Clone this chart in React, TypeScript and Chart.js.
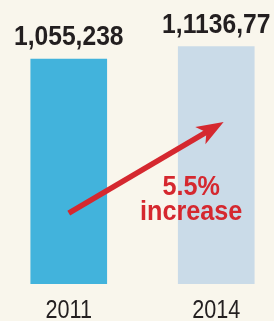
import React, { useEffect, useRef } from 'react';
import { Chart, registerables } from 'chart.js';

Chart.register(...registerables);

const categories = ['2011', '2014'];
const values = [1055238, 1113677];
const valueLabels = ['1,055,238', '1,1136,77'];
const barColors = ['#42b3dc', '#cadbe8'];
const changeLines = ['5.5%', 'increase'];
const arrowFrom = [0, 333000];
const arrowTo = [1.05, 760000];
const changeAnchor = [0.83, 403000];
const yMax = 1300000;

const FONT = '"Liberation Sans", Arial, Helvetica, sans-serif';

function drawText(ctx: CanvasRenderingContext2D, text: string, x: number, y: number, sx: number) {
  ctx.save();
  ctx.translate(x, y);
  ctx.scale(sx, 1);
  ctx.fillText(text, 0, 0);
  ctx.restore();
}

const annotPlugin = {
  id: 'annot',
  afterDatasetsDraw(chart: any) {
    const ctx = chart.ctx as CanvasRenderingContext2D;
    const xs = chart.scales.x;
    const ys = chart.scales.y;
    const meta = chart.getDatasetMeta(0);
    ctx.save();
    ctx.textAlign = 'center';
    ctx.textBaseline = 'alphabetic';
    // value labels
    ctx.fillStyle = '#231f20';
    ctx.font = `bold 28px ${FONT}`;
    meta.data.forEach((bar: any, i: number) => {
      drawText(ctx, valueLabels[i], bar.x, bar.y - 14, 0.88);
    });
    // category labels (x axis)
    ctx.font = `25px ${FONT}`;
    categories.forEach((c, i) => {
      drawText(ctx, c, xs.getPixelForTick(i), chart.chartArea.bottom + 34, 0.865);
    });
    // arrow
    const red = '#d5282f';
    const x0 = xs.getPixelForValue(arrowFrom[0]);
    const y0 = ys.getPixelForValue(arrowFrom[1]);
    const x1 = xs.getPixelForValue(arrowTo[0]);
    const y1 = ys.getPixelForValue(arrowTo[1]);
    const dx = x1 - x0, dy = y1 - y0;
    const len = Math.hypot(dx, dy);
    const ux = dx / len, uy = dy / len;
    const nx = -uy, ny = ux;
    const headLen = 27, headHalf = 10, notch = 20;
    const nxp = x1 - ux * notch, nyp = y1 - uy * notch;
    ctx.strokeStyle = red;
    ctx.lineWidth = 5.5;
    ctx.lineCap = 'butt';
    ctx.beginPath();
    ctx.moveTo(x0, y0);
    ctx.lineTo(nxp + ux * 2, nyp + uy * 2);
    ctx.stroke();
    ctx.fillStyle = red;
    ctx.beginPath();
    ctx.moveTo(x1, y1);
    ctx.lineTo(x1 - ux * headLen + nx * headHalf, y1 - uy * headLen + ny * headHalf);
    ctx.lineTo(nxp, nyp);
    ctx.lineTo(x1 - ux * headLen - nx * headHalf, y1 - uy * headLen - ny * headHalf);
    ctx.closePath();
    ctx.fill();
    // change text
    const cx = xs.getPixelForValue(changeAnchor[0]);
    const cy = ys.getPixelForValue(changeAnchor[1]);
    ctx.font = `bold 28px ${FONT}`;
    drawText(ctx, changeLines[0], cx, cy - 3, 0.9);
    drawText(ctx, changeLines[1], cx, cy + 22, 0.9);
    ctx.restore();
  },
};

export default function App() {
  const ref = useRef<HTMLCanvasElement | null>(null);
  useEffect(() => {
    document.body.style.margin = '0';
    const canvas = ref.current;
    if (!canvas) return;
    const chart = new Chart(canvas, {
      type: 'bar',
      data: {
        labels: categories,
        datasets: [
          {
            data: values,
            backgroundColor: barColors,
            borderWidth: 0,
            barThickness: 76,
          },
        ],
      },
      options: {
        animation: false,
        responsive: false,
        devicePixelRatio: 1,
        layout: { padding: { top: 7, left: 0, right: 0, bottom: 0 } },
        plugins: { legend: { display: false }, tooltip: { enabled: false } },
        scales: {
          x: {
            grid: { display: false, drawTicks: false },
            border: { display: false },
            ticks: { display: false },
            afterFit: (scale: any) => {
              scale.height = 37;
            },
          },
          y: { display: false, min: 0, max: yMax },
        },
      },
      plugins: [annotPlugin],
    });
    return () => chart.destroy();
  }, []);
  return (
    <div style={{ width: 274, height: 321, position: 'relative', overflow: 'hidden', background: '#f9f6ec' }}>
      <canvas ref={ref} width={295} height={321} style={{ position: 'absolute', left: -5, top: 0, width: 295, height: 321 }} />
    </div>
  );
}
